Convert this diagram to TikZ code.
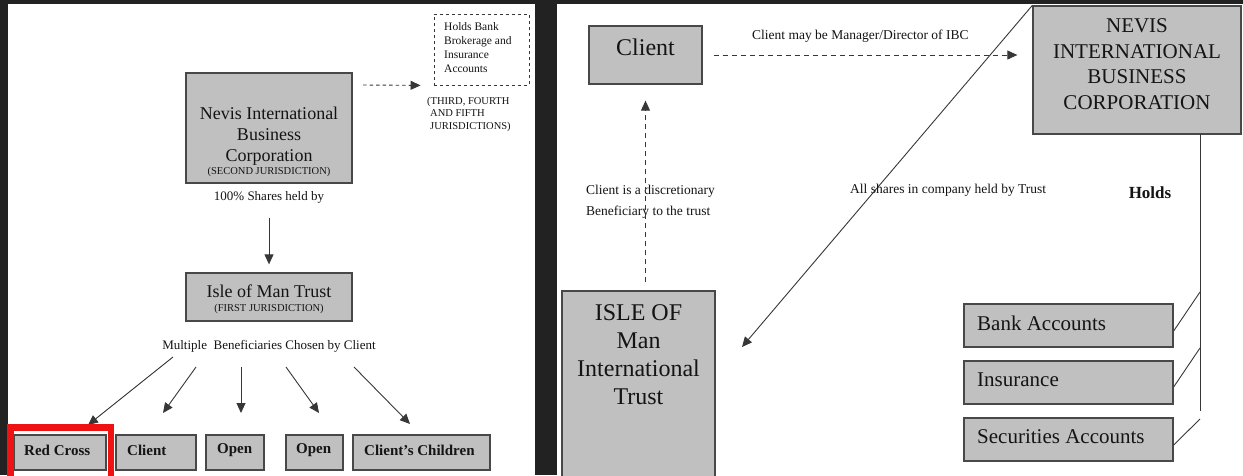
\documentclass[tikz,border=0pt]{standalone}
\usepackage{fontspec}
\setmainfont{Liberation Serif}
\usetikzlibrary{arrows.meta}
\definecolor{bgdark}{RGB}{34,34,34}
\definecolor{boxfill}{RGB}{192,192,192}
\definecolor{boxline}{RGB}{72,72,72}
\definecolor{wire}{RGB}{55,55,55}
\definecolor{hlred}{RGB}{238,18,18}
\begin{document}
\begin{tikzpicture}[x=1pt,y=-1pt,
  box/.style={draw=boxline, fill=boxfill, line width=1.3pt, inner sep=0pt},
  txt/.style={inner sep=0pt, text=black!92},
  conn/.style={draw=wire, line width=0.9pt, -{Triangle[length=10pt,width=9pt]}},
  plain/.style={draw=wire, line width=0.9pt},
  f13/.style={font=\fontsize{13.5}{21}\selectfont},
]
\useasboundingbox (0,0) rectangle (1243,475);
\clip (0,0) rectangle (1243,475);

% backdrop and the two white sheets
\fill[bgdark] (0,0) rectangle (1243,475);
\fill[white] (8,4) rectangle (535,480);
\fill[white] (557,4) rectangle (1243,480);

% ---------------- left sheet ----------------
\node[box, minimum width=166pt, minimum height=110pt] (nevisL) at (269,128) {};
\node[txt, align=center, font=\fontsize{18}{21}\selectfont] (nevisLname) at (269,136)
  {Nevis International\\Business\\Corporation};
\node[txt, font=\fontsize{10.5}{12}\selectfont] (nevisLjur) at (269,172) {(SECOND JURISDICTION)};
\node[txt, font=\fontsize{13}{15}\selectfont] (shares) at (269,197) {100\% Shares held by};

\node[draw=wire, line width=0.9pt, dash pattern=on 3pt off 3pt, minimum width=95pt,
      minimum height=71pt, inner sep=0pt] (holds) at (481.5,49.5) {};
\node[txt, anchor=west, align=left, font=\fontsize{11.5}{14}\selectfont] (holdstxt) at (444,48)
  {Holds Bank\\Brokerage and\\Insurance\\Accounts};
\node[txt, anchor=north west, align=left, font=\fontsize{10.5}{12.5}\selectfont] (juris) at (427,97)
  {(THIRD, FOURTH\\\hspace{3pt}AND FIFTH\\\hspace{3pt}JURISDICTIONS)};
\coordinate (holdsfrom) at (363,85);
\draw[conn, dash pattern=on 3.5pt off 3pt, shorten >=13pt] (holdsfrom) -- (holds.south west);

\node[box, minimum width=166pt, minimum height=48pt] (isleL) at (269,297) {};
\node[txt, font=\fontsize{18}{21}\selectfont] (isleLname) at (269,291) {Isle of Man Trust};
\node[txt, font=\fontsize{10.5}{12}\selectfont] (isleLjur) at (269,309) {(FIRST JURISDICTION)};

\draw[conn, shorten <=15pt, shorten >=8pt] (shares.south) -- (isleL.north);

\node[txt, font=\fontsize{13}{15}\selectfont] (mbc) at (269,346) {Multiple\ \ Beneficiaries Chosen by Client};

% beneficiaries
\node[box, minimum width=92pt, minimum height=35pt] (redcross) at (60,452.5) {};
\node[box, minimum width=80pt, minimum height=35pt] (clientL) at (156,452.5) {};
\node[box, minimum width=58pt, minimum height=35pt] (openA) at (235,452.5) {};
\node[box, minimum width=57pt, minimum height=35pt] (openB) at (314.5,452.5) {};
\node[box, minimum width=137pt, minimum height=35pt] (children) at (421.5,452.5) {};
\begin{scope}[every node/.style={txt, anchor=west, font=\bfseries\fontsize{15}{18}\selectfont}]
  \node (redcrosstxt) at (24,450) {Red Cross};
  \node (clientLtxt) at (127,450) {Client};
  \node (openAtxt) at (217,450) {Open};
  \node (openBtxt) at (296,450) {Open};
  \node (childrentxt) at (364,450) {Client’s Children};
\end{scope}

\coordinate (b1) at (173,357); \coordinate (e1) at (88,425);
\coordinate (b2) at (196,367); \coordinate (e2) at (163,413);
\coordinate (b3) at (241,367); \coordinate (e3) at (241,413);
\coordinate (b4) at (286,367); \coordinate (e4) at (319,413);
\coordinate (b5) at (354,367); \coordinate (e5) at (410,424);
\draw[conn] (b1) -- (e1);
\draw[conn] (b2) -- (e2);
\draw[conn] (b3) -- (e3);
\draw[conn] (b4) -- (e4);
\draw[conn] (b5) -- (e5);

% highlight frame around the first beneficiary
\draw[hlred, line width=6.5pt] (10.25,427.25) rectangle (110.75,490);

% ---------------- right sheet ----------------
\node[box, minimum width=113pt, minimum height=58pt] (clientR) at (645.5,55) {};
\node[txt, font=\fontsize{24}{28}\selectfont] (clientRtxt) at (645.5,47) {Client};

\node[box, minimum width=208pt, minimum height=128pt] (nevisR) at (1137,70) {};
\node[txt, align=center, font=\fontsize{21}{25.7}\selectfont] (nevisRtxt) at (1137,64)
  {NEVIS\\INTERNATIONAL\\BUSINESS\\CORPORATION};

\node[box, minimum width=153pt, minimum height=199pt] (isleR) at (638.5,390.5) {};
\node[txt, align=center, font=\fontsize{24}{28}\selectfont] (isleRtxt) at (638.5,355)
  {ISLE OF\\Man\\International\\Trust};

\node[txt, anchor=west, f13] (maybe) at (752,36) {Client may be Manager/Director of IBC};
\draw[conn, dash pattern=on 5pt off 4pt, shorten <=11pt, shorten >=15pt]
  (clientR.east) -- (clientR.east -| nevisR.west);

\coordinate (trustto) at (742,347);
\draw[conn] (nevisR.north west) -- (trustto);
\node[txt, anchor=west, f13] (allshares) at (850,190) {All shares in company held by Trust};

\node[txt, anchor=west, align=left, f13] (discr) at (586,201.5)
  {Client is a discretionary\\Beneficiary to the trust};
\draw[conn, dash pattern=on 5pt off 4pt, shorten <=8pt, shorten >=16pt]
  (clientR.south |- isleR.north) -- (clientR.south);

\node[txt, font=\bfseries\fontsize{17}{20}\selectfont] (holdsR) at (1150,193) {Holds};

\node[box, minimum width=209pt, minimum height=43pt] (bank) at (1068.5,325.5) {};
\node[box, minimum width=209pt, minimum height=43pt] (insur) at (1068.5,382.5) {};
\node[box, minimum width=209pt, minimum height=43pt] (secur) at (1068.5,439.5) {};
\begin{scope}[every node/.style={txt, anchor=west, font=\fontsize{21}{25}\selectfont}]
  \node (banktxt) at (977,323) {Bank Accounts};
  \node (insurtxt) at (977,380) {Insurance};
  \node (securtxt) at (977,437) {Securities Accounts};
\end{scope}

% holdings trunk and its branches
\coordinate (trunktop) at (1200,134);
\coordinate (trunkend) at (1200,411);
\draw[plain] (trunktop) -- (trunkend);
\coordinate (tb) at (1200,292);
\coordinate (ti) at (1200,348);
\coordinate (ts) at (1200,419);
\draw[plain] (tb) -- ([yshift=-5.5pt]bank.east);
\draw[plain] (ti) -- ([yshift=-4.5pt]insur.east);
\draw[plain] (ts) -- ([yshift=-5.5pt]secur.east);
\end{tikzpicture}
\end{document}
